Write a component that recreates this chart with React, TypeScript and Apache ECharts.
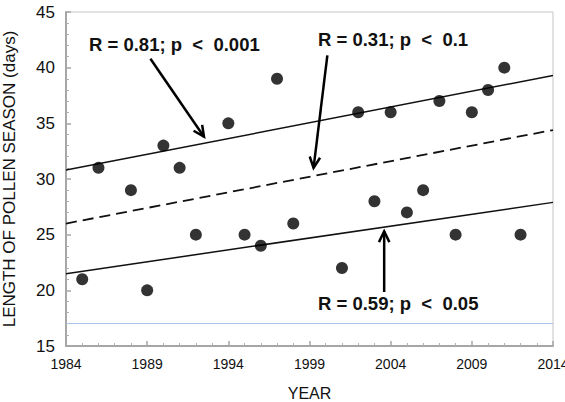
import React, { useEffect, useRef } from "react";
import * as echarts from "echarts";

const BASE_YEAR = 1984;
const YEARS = [1985, 1986, 1988, 1989, 1990, 1991, 1992, 1994, 1995, 1996, 1997, 1998, 2001, 2002, 2003, 2004, 2005, 2006, 2007, 2008, 2009, 2010, 2011, 2012];
const SEASON_DAYS = [21, 31, 29, 20, 33, 31, 25, 35, 25, 24, 39, 26, 22, 36, 28, 36, 27, 29, 37, 25, 36, 38, 40, 25];

const TREND_YEARS = [1984, 2014];
const TREND_UPPER = [30.8, 39.3];
const TREND_MIDDLE = [26.0, 34.4];
const TREND_LOWER = [21.5, 27.9];

const REFERENCE_LEVEL = 17;

// annotation arrows: [fromYear, fromValue, toYear, toValue]
const ARROWS = [
  [1989.2, 40.8, 1992.5, 33.8],
  [2000.1, 41.1, 1999.25, 31.0],
  [2003.6, 19.85, 2003.6, 25.3],
];
const ANNOTATIONS = ["R = 0.81; p  <  0.001", "R = 0.31; p  <  0.1", "R = 0.59; p  <  0.05"];

const X_TICK_LABELS_FROM = BASE_YEAR;
const FONT = "'Liberation Sans', Arial, Helvetica, sans-serif";

const App: React.FC = () => {
  const ref = useRef<HTMLDivElement>(null);

  useEffect(() => {
    if (!ref.current) return;
    const chart = echarts.init(ref.current, null, { renderer: "svg" });

    const toX = (y: number) => y - BASE_YEAR;
    const trend = (vals: number[]) => TREND_YEARS.map((yr, i) => [toX(yr), vals[i]]);

    const option: any = {
      animation: false,
      backgroundColor: "#ffffff",
      textStyle: { fontFamily: FONT },
      grid: {
        left: 66,
        right: 12,
        top: 12,
        bottom: 56,
        containLabel: false,
        outerBoundsMode: "none",
        show: true,
        borderColor: "#c4c4c4",
        borderWidth: 1,
        backgroundColor: "transparent",
      },
      xAxis: {
        type: "value",
        min: 0,
        max: 30,
        interval: 5,
        name: "YEAR",
        nameLocation: "middle",
        nameGap: 47,
        nameTextStyle: { fontFamily: FONT, fontSize: 16, color: "#111", verticalAlign: "middle", padding: 0 },
        axisLine: { show: true, onZero: false, lineStyle: { color: "#a6a6a6", width: 2 } },
        axisTick: { show: true, inside: true, length: 5, lineStyle: { color: "#a6a6a6", width: 1.5 } },
        minorTick: { show: true, splitNumber: 5, length: 3, lineStyle: { color: "#b0b0b0", width: 1 } },
        splitLine: { show: false },
        axisLabel: {
          fontFamily: FONT,
          fontSize: 14,
          color: "#111",
          margin: 11,
          formatter: (v: number) => String(v + X_TICK_LABELS_FROM),
        },
      },
      yAxis: {
        type: "value",
        min: 15,
        max: 45,
        interval: 5,
        name: "LENGTH OF POLLEN SEASON (days)",
        nameLocation: "middle",
        nameGap: 57,
        nameTextStyle: { fontFamily: FONT, fontSize: 17, color: "#111", verticalAlign: "middle" },
        axisLine: { show: true, lineStyle: { color: "#a6a6a6", width: 2 } },
        axisTick: { show: true, inside: true, length: 5, lineStyle: { color: "#a6a6a6", width: 1.5 } },
        minorTick: { show: true, splitNumber: 5, length: 3, lineStyle: { color: "#b0b0b0", width: 1 } },
        splitLine: { show: false },
        axisLabel: { fontFamily: FONT, fontSize: 17, color: "#111", margin: 11 },
      },
      series: [
        {
          type: "line",
          data: trend(TREND_UPPER),
          showSymbol: false,
          symbol: "none",
          silent: true,
          lineStyle: { color: "#111", width: 1.5 },
          z: 2,
        },
        {
          type: "line",
          data: trend(TREND_MIDDLE),
          showSymbol: false,
          symbol: "none",
          silent: true,
          lineStyle: { color: "#111", width: 1.8, type: [11, 6] },
          z: 2,
        },
        {
          type: "line",
          data: trend(TREND_LOWER),
          showSymbol: false,
          symbol: "none",
          silent: true,
          lineStyle: { color: "#111", width: 1.5 },
          z: 2,
          markLine: {
            silent: true,
            symbol: "none",
            label: { show: false },
            lineStyle: { color: "#a9c4e6", width: 1, type: "solid" },
            data: [{ yAxis: REFERENCE_LEVEL }],
          },
        },
        {
          type: "scatter",
          data: YEARS.map((yr, i) => [toX(yr), SEASON_DAYS[i]]),
          symbol: "circle",
          symbolSize: 12,
          itemStyle: { color: "#000" },
          z: 3,
        },
        {
          type: "custom",
          silent: true,
          z: 4,
          data: ARROWS.map((a) => [toX(a[0]), a[1], toX(a[2]), a[3]]),
          renderItem: (params: any, api: any) => {
            const p1 = api.coord([api.value(0), api.value(1)]);
            const p2 = api.coord([api.value(2), api.value(3)]);
            const ang = Math.atan2(p2[1] - p1[1], p2[0] - p1[0]);
            const L = 12;
            const a = Math.PI / 7;
            const h1 = [p2[0] - L * Math.cos(ang - a), p2[1] - L * Math.sin(ang - a)];
            const h2 = [p2[0] - L * Math.cos(ang + a), p2[1] - L * Math.sin(ang + a)];
            return {
              type: "group",
              children: [
                {
                  type: "line",
                  shape: { x1: p1[0], y1: p1[1], x2: p2[0], y2: p2[1] },
                  style: { stroke: "#000", lineWidth: 2.5 },
                },
                {
                  type: "polyline",
                  shape: { points: [h1, p2, h2] },
                  style: { stroke: "#000", lineWidth: 2.5, fill: null, lineJoin: "miter" },
                },
              ],
            };
          },
        },
      ],
      graphic: [
        {
          type: "text",
          left: 89,
          top: 35,
          style: { text: ANNOTATIONS[0], font: `bold 18.5px ${FONT}`, fill: "#111" },
        },
        {
          type: "text",
          left: 318,
          top: 30,
          style: { text: ANNOTATIONS[1], font: `bold 18.5px ${FONT}`, fill: "#111" },
        },
        {
          type: "text",
          left: 318,
          top: 294,
          style: { text: ANNOTATIONS[2], font: `bold 18.5px ${FONT}`, fill: "#111" },
        },
      ],
    };

    chart.setOption(option);
    return () => chart.dispose();
  }, []);

  return (
    <div
      ref={ref}
      style={{ position: "fixed", left: 0, top: 0, width: 565, height: 402 }}
    />
  );
};

export default App;
